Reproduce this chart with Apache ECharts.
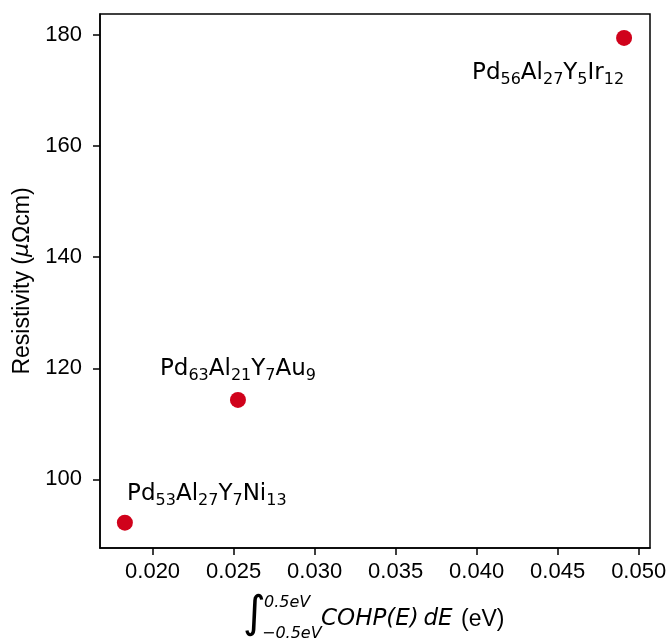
<!DOCTYPE html>
<html>
<head>
<meta charset="utf-8">
<script src="https://cdn.jsdelivr.net/npm/echarts@6/dist/echarts.min.js"></script>
<style>
  html, body { margin: 0; padding: 0; background: #fff; }
  #main { width: 670px; height: 639px; }
</style>
</head>
<body>
<div id="main"></div>
<script>
// alloy compositions (rich text: {s|..} = subscript)
var alloys = [
    'Pd{s|53}Al{s|27}Y{s|7}Ni{s|13}',
    'Pd{s|63}Al{s|21}Y{s|7}Au{s|9}',
    'Pd{s|56}Al{s|27}Y{s|5}Ir{s|12}'
];
var cohpValues = [0.01829, 0.02527, 0.04910];
var resistivity = [92.2, 114.3, 179.5];
var xTicks = [0.020, 0.025, 0.030, 0.035, 0.040, 0.045, 0.050];
var yTicks = [100, 120, 140, 160, 180];

var labelOffsets = [[82, -29], [0, -31], [-76, 35]];

var chartDom = document.getElementById('main');
var chart = echarts.init(chartDom, null, { renderer: 'canvas' });

var tickFont = 'Liberation Sans';
var labelRich = {
    n: { fontFamily: 'DejaVu Sans', fontSize: 23, color: '#000', lineHeight: 30 },
    s: { fontFamily: 'DejaVu Sans', fontSize: 16, color: '#000', lineHeight: 16, verticalAlign: 'bottom' }
};

var points = cohpValues.map(function (x, i) {
    return {
        value: [x, resistivity[i]],
        name: alloys[i],
        label: {
            show: true,
            position: 'inside',
            offset: labelOffsets[i],
            color: '#000',
            fontSize: 23,
            fontFamily: 'DejaVu Sans',
            formatter: '{n|' + alloys[i].replace(/\{s\|/g, '}{s|').replace(/\}(?!\{)/g, '}{n|') + '}',
            rich: labelRich
        }
    };
});

var option = {
    animation: false,
    grid: {
        left: 100, top: 14, right: 20, bottom: 91,
        show: true, borderColor: '#000', borderWidth: 1.5
    },
    xAxis: {
        type: 'value',
        min: 0.016755, max: 0.0507,
        axisLine: { show: true, onZero: false, lineStyle: { color: '#000', width: 1.5 } },
        axisTick: { show: true, inside: false, length: 7, lineStyle: { color: '#000', width: 1.5 }, customValues: xTicks },
        axisLabel: {
            customValues: xTicks, margin: 13,
            fontFamily: tickFont, fontSize: 22, color: '#000',
            formatter: function (v) { return v.toFixed(3); }
        },
        splitLine: { show: false }
    },
    yAxis: {
        type: 'value',
        min: 87.64, max: 183.8,
        name: '{r|Resistivity (}{i|μ}{r|Ωcm)}',
        nameLocation: 'middle',
        nameGap: 66,
        nameTextStyle: {
            fontFamily: tickFont, fontSize: 23, color: '#000',
            rich: {
                r: { fontFamily: tickFont, fontSize: 23, color: '#000' },
                i: { fontFamily: 'DejaVu Sans', fontStyle: 'italic', fontSize: 22, color: '#000' }
            }
        },
        axisLine: { show: true, onZero: false, lineStyle: { color: '#000', width: 1.5 } },
        axisTick: { show: true, inside: false, length: 7, lineStyle: { color: '#000', width: 1.5 }, customValues: yTicks },
        axisLabel: {
            customValues: yTicks, margin: 18,
            fontFamily: tickFont, fontSize: 22, color: '#000'
        },
        splitLine: { show: false }
    },
    graphic: [
        { type: 'text', left: 243, top: 594, style: { text: '∫', fontFamily: 'DejaVu Sans', fontSize: 44, fill: '#000' } },
        { type: 'text', left: 264, top: 595, style: { text: '0.5eV', fontFamily: 'DejaVu Sans', fontStyle: 'italic', fontSize: 16, fill: '#000' } },
        { type: 'text', left: 262, top: 626, style: { text: '−0.5eV', fontFamily: 'DejaVu Sans', fontStyle: 'italic', fontSize: 16, fill: '#000' } },
        { type: 'text', left: 321, top: 608, style: { text: 'COHP(E)\u2009dE', fontFamily: 'DejaVu Sans', fontStyle: 'italic', fontSize: 23, fill: '#000' } },
        { type: 'text', left: 461, top: 608, style: { text: '(eV)', fontFamily: tickFont, fontSize: 23, fill: '#000' } }
    ],
    series: [{
        type: 'scatter',
        symbol: 'circle',
        symbolSize: 16,
        itemStyle: { color: '#d0021b', opacity: 1 },
        data: points
    }]
};

chart.setOption(option);
</script>
</body>
</html>
